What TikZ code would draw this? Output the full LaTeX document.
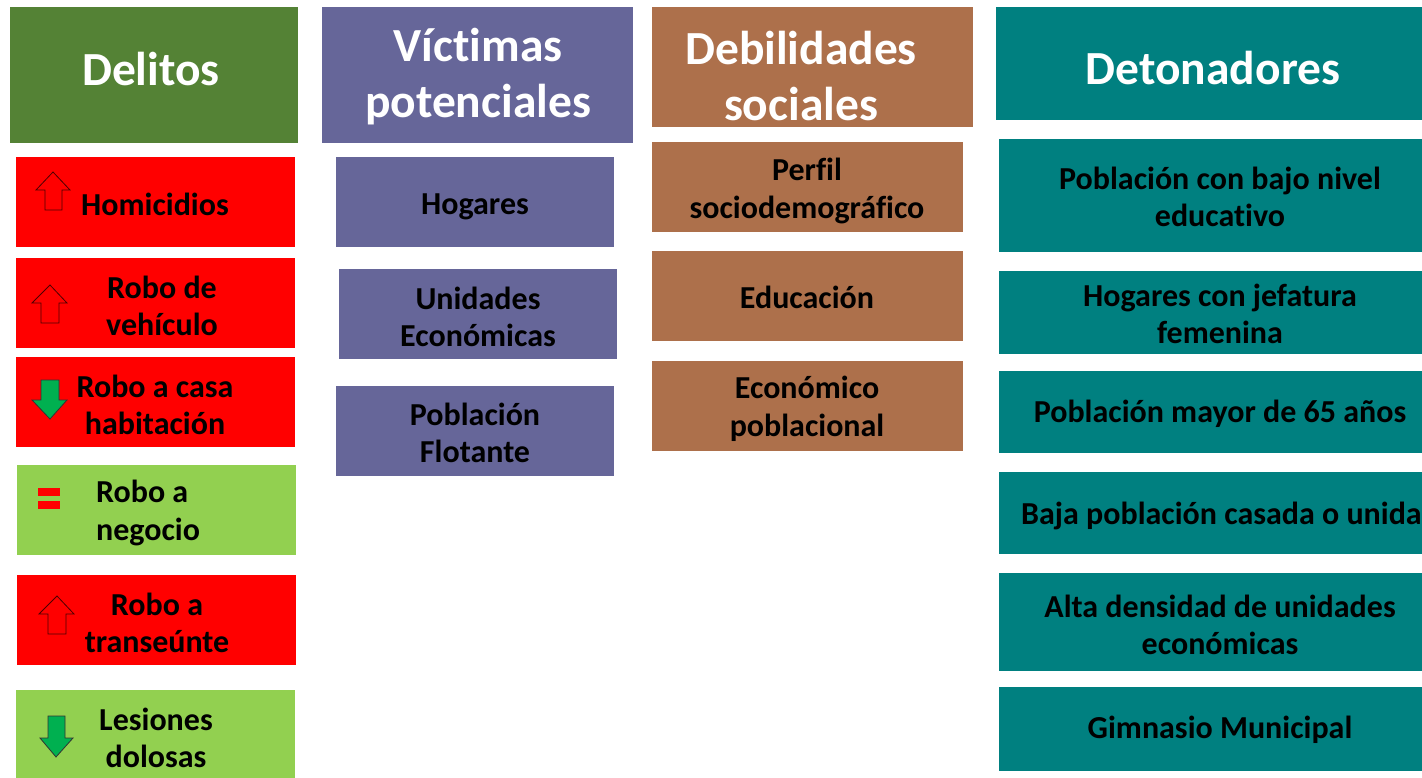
\documentclass[tikz,border=0pt]{standalone}
\usepackage{fontspec}
\setmainfont{Carlito}[Ligatures={NoCommon,NoRare,NoContextual}]
\definecolor{hdgreen}{HTML}{548235}
\definecolor{hdpurple}{HTML}{666699}
\definecolor{hdbrown}{HTML}{AD704B}
\definecolor{hdteal}{HTML}{008080}
\definecolor{redbox}{HTML}{FF0000}
\definecolor{ltgreen}{HTML}{92D050}
\definecolor{arrgreen}{HTML}{00B050}
\begin{document}
\begin{tikzpicture}[x=1pt,y=-1pt,
  hdtext/.style={font=\fontsize{47.5}{56}\bfseries\selectfont, text=white, align=center, inner sep=0pt},
  bxtext/.style={font=\fontsize{32}{37.5}\bfseries\selectfont, text=black, align=center, inner sep=0pt},
  uparr/.style={fill=redbox, draw=black!70!red, line width=0.8pt, line join=miter},
  dnarr/.style={fill=arrgreen, draw=black!80, line width=0.8pt, line join=miter}]
\useasboundingbox (0,0) rectangle (1422,778);
% Column 1
\fill[hdgreen] (10,7) rectangle (298,143);
\fill[redbox] (16,157) rectangle (295,247);
\fill[redbox] (16,258) rectangle (295,348);
\fill[redbox] (16,357) rectangle (295,447);
\fill[ltgreen] (17,465) rectangle (296,555);
\fill[redbox] (17,575) rectangle (296,665);
\fill[ltgreen] (16,690) rectangle (295,778);
\node[hdtext] (delitos) at (151,69) {Delitos};
\node[bxtext] (homic) at (155,204) {Homicidios};
\node[bxtext] (robveh) at (162,306) {Robo de\\vehículo};
\node[bxtext] (robcasa) at (155,405) {Robo a casa\\habitación};
\node[bxtext, align=left, anchor=west] (robneg) at (96,513) {Robo a\\negocio};
\node[bxtext] (robtran) at (157,623) {Robo a\\transeúnte};
\node[bxtext] (lesion) at (156,738) {Lesiones\\dolosas};
% arrows
\draw[uparr] (53,172) -- (70,190) -- (62,190) -- (62,210) -- (45,210) -- (45,190) -- (36,190) -- cycle;
\draw[uparr] (50,285) -- (67,303) -- (59,303) -- (59,323) -- (41,323) -- (41,303) -- (32,303) -- cycle;
\draw[dnarr] (41,380) -- (59,380) -- (59,400) -- (67,400) -- (50,419) -- (32,400) -- (41,400) -- cycle;
\fill[redbox] (38,488) rectangle (60,496);
\fill[redbox] (38,501) rectangle (60,509);
\draw[uparr] (57,596) -- (74,614) -- (66,614) -- (66,634) -- (48,634) -- (48,614) -- (39,614) -- cycle;
\draw[dnarr] (48,716) -- (65,716) -- (65,738) -- (73,738) -- (56,757) -- (40,738) -- (48,738) -- cycle;
% Column 2
\fill[hdpurple] (322,7) rectangle (633,143);
\fill[hdpurple] (336,157) rectangle (614,247);
\fill[hdpurple] (339,269) rectangle (617,359);
\fill[hdpurple] (336,386) rectangle (614,476);
\node[hdtext] (victimas) at (478,77) {Víctimas\\potenciales};
\node[bxtext] (hogares) at (475,207) {Hogares};
\node[bxtext] (unid) at (478,317) {Unidades\\Económicas};
\node[bxtext] (flot) at (475,433) {Población\\Flotante};
% Column 3
\fill[hdbrown] (652,7) rectangle (973,127);
\fill[hdbrown] (652,142) rectangle (963,232);
\fill[hdbrown] (652,251) rectangle (963,341);
\fill[hdbrown] (652,361) rectangle (963,451);
\node[hdtext] (debil) at (801,76) {Debilidades\\sociales};
\node[bxtext] (perfil) at (807,191) {Perfil\\sociodemográfico};
\node[bxtext] (educ) at (807,297) {Educación};
\node[bxtext] (econ) at (807,409) {Económico\\poblacional};
% Column 4
\fill[hdteal] (996,7) rectangle (1422,120);
\fill[hdteal] (999,139) rectangle (1422,252);
\fill[hdteal] (999,271) rectangle (1422,354);
\fill[hdteal] (999,371) rectangle (1422,453);
\fill[hdteal] (999,472) rectangle (1422,554);
\fill[hdteal] (999,573) rectangle (1422,671);
\fill[hdteal] (999,687) rectangle (1422,771);
\node[hdtext] (deton) at (1213,68) {Detonadores};
\node[bxtext] (bajonivel) at (1220,197) {Población con bajo nivel\\educativo};
\node[bxtext] (jefat) at (1220,314) {Hogares con jefatura\\femenina};
\node[bxtext] (mayor) at (1220,414) {Población mayor de 65 años};
\node[bxtext, anchor=west] (casada) at (1021,516) {Baja población casada o unida};
\node[bxtext] (densidad) at (1220,625) {Alta densidad de unidades\\económicas};
\node[bxtext] (gimn) at (1220,730) {Gimnasio Municipal};
\end{tikzpicture}
\end{document}
